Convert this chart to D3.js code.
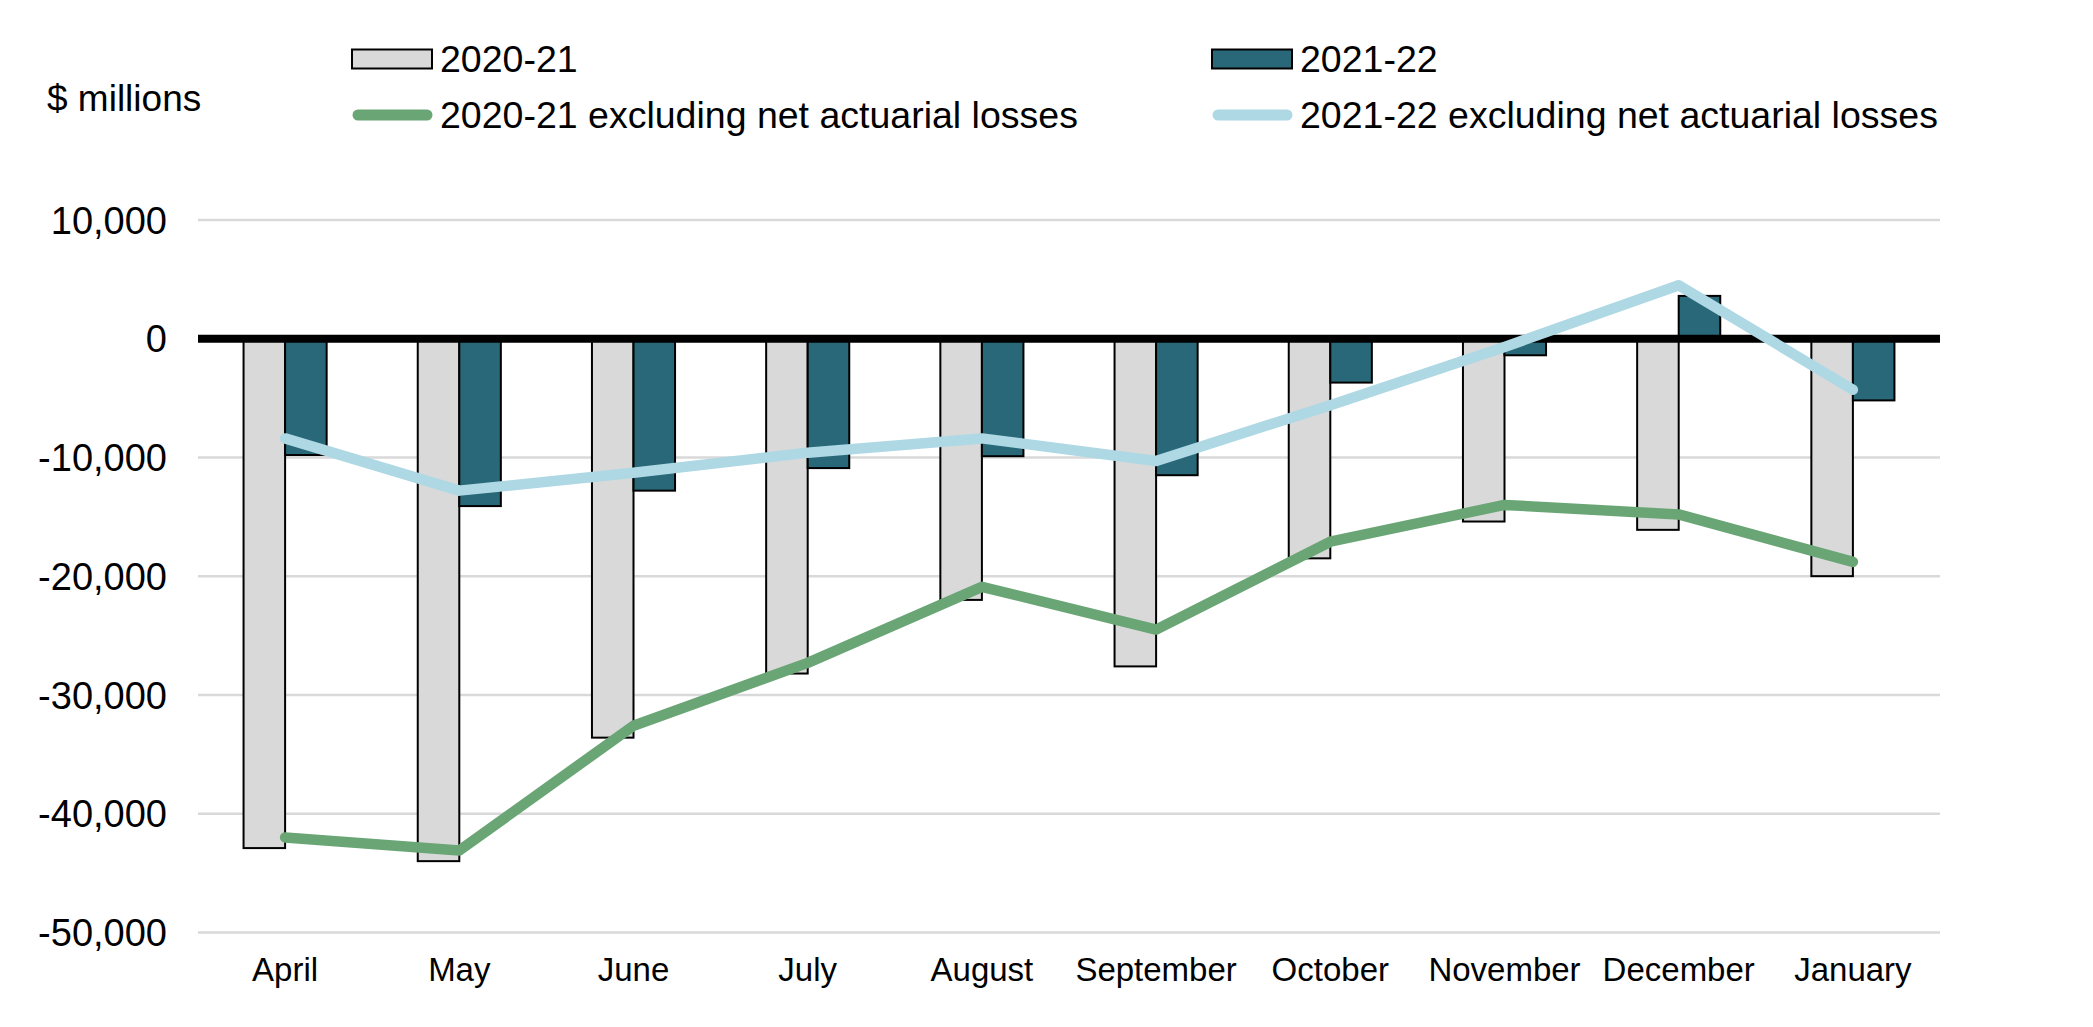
<!DOCTYPE html>
<html>
<head>
<meta charset="utf-8">
<script src="https://cdn.jsdelivr.net/npm/d3@7"></script>
<style>
  html, body { margin: 0; padding: 0; background: #ffffff; }
  svg { display: block; }
  text { font-family: "Liberation Sans", Arial, sans-serif; fill: #000; }
</style>
</head>
<body>
<script>
// ---- Data ----
const months = ["April", "May", "June", "July", "August", "September", "October", "November", "December", "January"];
const fy2021 = [-42900, -44000, -33600, -28200, -22000, -27600, -18500, -15400, -16100, -20000];
const fy2122 = [-9800, -14100, -12800, -10900, -9900, -11500, -3700, -1400, 3600, -5200];
const fy2021Excl = [-42000, -43100, -32600, -27300, -20900, -24500, -17100, -14000, -14800, -18800];
const fy2122Excl = [-8400, -12800, -11300, -9600, -8400, -10300, -5600, -700, 4500, -4300];
const yTicks = [10000, 0, -10000, -20000, -30000, -40000, -50000];
const yDomain = [-50000, 10000];
const unitLabel = "$ millions";
const legendLabels = ["2020-21", "2021-22", "2020-21 excluding net actuarial losses", "2021-22 excluding net actuarial losses"];

// ---- Layout ----
const W = 2093, H = 1027;
const plot = { left: 198, right: 1940, top: 219.9, bottom: 932.4 };
const colors = { bar1: "#d9d9d9", bar2: "#286878", line1: "#6aa675", line2: "#add8e4" };

const svg = d3.select("body").append("svg").attr("width", W).attr("height", H);
svg.append("rect").attr("width", W).attr("height", H).attr("fill", "#fff");

const x = d3.scaleBand().domain(months).range([plot.left, plot.right]).paddingInner(0).paddingOuter(0);
const y = d3.scaleLinear().domain(yDomain).range([plot.bottom, plot.top]);
const groupFrac = 0.477;
const barW = x.bandwidth() * groupFrac / 2;
const xc = m => x(m) + x.bandwidth() / 2;

const locale = d3.formatLocale({ decimal: ".", thousands: ",", grouping: [3], currency: ["$", ""], minus: "-" });
const fmt = locale.format(",");

// Gridlines
svg.append("g").selectAll("line").data(yTicks.filter(t => t !== 0)).join("line")
  .attr("x1", plot.left).attr("x2", plot.right)
  .attr("y1", d => y(d)).attr("y2", d => y(d))
  .attr("stroke", "#d9d9d9").attr("stroke-width", 2.5);

// Y axis labels
const yAxis = d3.axisLeft(y).tickValues(yTicks).tickFormat(fmt).tickSize(0).tickPadding(0);
const yg = svg.append("g").attr("transform", `translate(167,0)`).call(yAxis);
yg.select(".domain").remove();
yg.selectAll("text").attr("font-size", 38).attr("font-family", "'Liberation Sans', Arial, sans-serif").attr("fill", "#000").attr("dy", "0.35em");

// X axis labels
const xAxis = d3.axisBottom(x).tickSize(0).tickPadding(0);
const xg = svg.append("g").attr("transform", `translate(0,${958})`).call(xAxis);
xg.select(".domain").remove();
xg.selectAll("text").attr("font-size", 33).attr("font-family", "'Liberation Sans', Arial, sans-serif").attr("fill", "#000").attr("dy", "0.71em");

// Bars
const bars = svg.append("g");
bars.selectAll("rect.b1").data(months).join("rect").attr("class", "b1")
  .attr("x", m => xc(m) - barW)
  .attr("width", barW)
  .attr("y", (m, i) => Math.min(y(fy2021[i]), y(0)))
  .attr("height", (m, i) => Math.abs(y(fy2021[i]) - y(0)))
  .attr("fill", colors.bar1).attr("stroke", "#000").attr("stroke-width", 2);
bars.selectAll("rect.b2").data(months).join("rect").attr("class", "b2")
  .attr("x", m => xc(m))
  .attr("width", barW)
  .attr("y", (m, i) => Math.min(y(fy2122[i]), y(0)))
  .attr("height", (m, i) => Math.abs(y(fy2122[i]) - y(0)))
  .attr("fill", colors.bar2).attr("stroke", "#000").attr("stroke-width", 2);

// Zero line
svg.append("line").attr("x1", plot.left).attr("x2", plot.right)
  .attr("y1", y(0)).attr("y2", y(0)).attr("stroke", "#000").attr("stroke-width", 8);

// Lines
const lineGen = d3.line().x(d => xc(d.m)).y(d => y(d.v));
[[fy2021Excl, colors.line1], [fy2122Excl, colors.line2]].forEach(([vals, c]) => {
  svg.append("path")
    .datum(months.map((m, i) => ({ m, v: vals[i] })))
    .attr("d", lineGen)
    .attr("fill", "none").attr("stroke", c).attr("stroke-width", 10.5)
    .attr("stroke-linecap", "round").attr("stroke-linejoin", "round");
});

// Unit label
svg.append("text").attr("x", 47).attr("y", 98).attr("dy", "0.35em")
  .attr("font-size", 37).text(unitLabel);

// Legend
const leg = svg.append("g");
const legItems = [
  { type: "rect", color: colors.bar1, x: 352, y: 59, label: legendLabels[0] },
  { type: "rect", color: colors.bar2, x: 1212, y: 59, label: legendLabels[1] },
  { type: "line", color: colors.line1, x: 352, y: 115, label: legendLabels[2] },
  { type: "line", color: colors.line2, x: 1212, y: 115, label: legendLabels[3] }
];
legItems.forEach(it => {
  if (it.type === "rect") {
    leg.append("rect").attr("x", it.x).attr("y", it.y - 9.5).attr("width", 80).attr("height", 19)
      .attr("fill", it.color).attr("stroke", "#000").attr("stroke-width", 2);
  } else {
    leg.append("line").attr("x1", it.x + 6).attr("x2", it.x + 75).attr("y1", it.y).attr("y2", it.y)
      .attr("stroke", it.color).attr("stroke-width", 11).attr("stroke-linecap", "round");
  }
  leg.append("text").attr("x", it.x + 88).attr("y", it.y).attr("dy", "0.35em")
    .attr("font-size", 37.5).text(it.label);
});
</script>
</body>
</html>
